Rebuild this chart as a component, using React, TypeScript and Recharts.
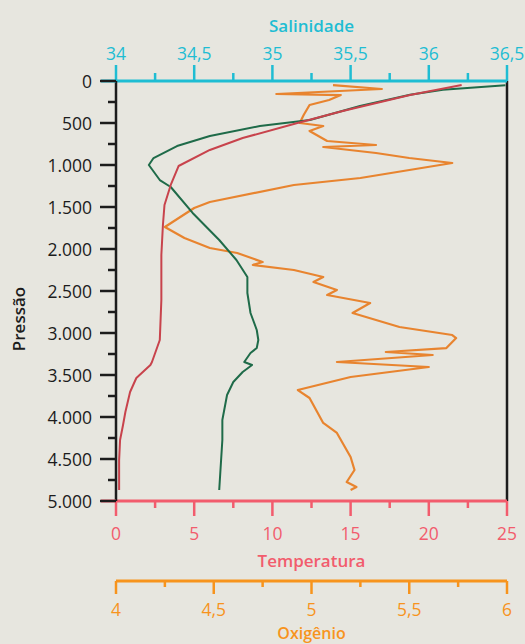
import React from 'react';
import { ComposedChart, Scatter, XAxis, YAxis, ReferenceLine } from 'recharts';

// ---- ticks ----
const depthTicks = [0, 250, 500, 750, 1000, 1250, 1500, 1750, 2000, 2250, 2500, 2750, 3000, 3250, 3500, 3750, 4000, 4250, 4500, 4750, 5000];
const salTicks = [34, 34.25, 34.5, 34.75, 35, 35.25, 35.5, 35.75, 36, 36.25, 36.5];
const tempTicks = [0, 2.5, 5, 7.5, 10, 12.5, 15, 17.5, 20, 22.5, 25];
const oxyTicks = [4, 4.25, 4.5, 4.75, 5, 5.25, 5.5, 5.75, 6];

// ---- Temperatura (°C) ----
const tempDepths = [48, 167, 357, 500, 679, 821, 1012, 1238, 1476, 1714, 2071, 2607, 3083, 3345, 3381, 3536, 3702, 3940, 4095, 4274, 4512, 4869];
const tempValues = [22.1, 18.8, 14.5, 11.6, 8.1, 6.0, 4.0, 3.5, 3.1, 3.0, 2.9, 2.9, 2.8, 2.3, 2.2, 1.3, 0.9, 0.6, 0.45, 0.26, 0.2, 0.2];

// ---- Salinidade ----
const salDepths = [50, 104, 163, 298, 464, 536, 655, 774, 917, 1000, 1179, 1262, 1571, 1893, 2131, 2333, 2524, 2762, 2964, 3083, 3179, 3238, 3345, 3381, 3464, 3583, 3738, 4036, 4274, 4869];
const salValues = [36.49, 36.09, 35.88, 35.56, 35.24, 34.92, 34.6, 34.39, 34.24, 34.21, 34.28, 34.35, 34.49, 34.66, 34.77, 34.84, 34.84, 34.86, 34.9, 34.91, 34.9, 34.86, 34.82, 34.87, 34.81, 34.75, 34.71, 34.68, 34.68, 34.66];

// ---- Oxigênio ----
const oxyDepths = [48, 95, 155, 167, 226, 286, 405, 500, 536, 595, 714, 762, 786, 857, 917, 976, 1155, 1238, 1440, 1512, 1738, 1869, 1988, 2048, 2155, 2190, 2250, 2333, 2393, 2488, 2548, 2643, 2762, 2929, 3024, 3060, 3179, 3226, 3262, 3345, 3405, 3524, 3679, 3774, 4071, 4190, 4476, 4631, 4774, 4833, 4869];
const oxyValues = [5.11, 5.36, 4.82, 5.15, 5.09, 4.99, 4.96, 4.94, 5.06, 4.99, 5.08, 5.33, 5.06, 5.33, 5.5, 5.72, 5.25, 4.91, 4.48, 4.4, 4.25, 4.35, 4.48, 4.62, 4.75, 4.7, 4.91, 5.06, 5.01, 5.13, 5.08, 5.3, 5.21, 5.45, 5.72, 5.74, 5.69, 5.38, 5.62, 5.13, 5.6, 5.2, 4.93, 4.99, 5.06, 5.13, 5.2, 5.22, 5.18, 5.23, 5.2];

const tempData = tempDepths.map((d, i) => ({ depth: d, v: tempValues[i] }));
const salData = salDepths.map((d, i) => ({ depth: d, v: salValues[i] }));
const oxyData = oxyDepths.map((d, i) => ({ depth: d, v: oxyValues[i] }));

const CYAN = '#1fbdd3';
const PINK = '#f25c6d';
const ORANGE = '#f7941d';
const DARK = '#1c1c1c';
const BG = '#e7e6df';
const FONT = '"Open Sans", "Noto Sans", sans-serif';
const TICK_FS = 17.5;

const comma = (v: number) => String(v).replace('.', ',');
const thousands = (v: number) => (v >= 1000 ? `${Math.floor(v / 1000)}.${String(v % 1000).padStart(3, '0')}` : String(v));

const SalTick = (p: any) => {
  const { x, y, payload, index } = p;
  const v = payload.value;
  const major = Number.isInteger(v * 2);
  return (
    <g>
      {index === 0 && <line x1={x - 15} x2={x} y1={y} y2={y} stroke={CYAN} strokeWidth={3} />}
      <line x1={x} x2={x} y1={y} y2={y - (major ? 16 : 8)} stroke={CYAN} strokeWidth={2.5} />
      {major && (
        <text x={x} y={y - 28} textAnchor="middle" dominantBaseline="central" fill={CYAN} fontSize={TICK_FS} fontFamily={FONT}>
          {comma(v)}
        </text>
      )}
    </g>
  );
};

const TempTick = (p: any) => {
  const { x, y, payload, index } = p;
  const v = payload.value;
  const major = v % 5 === 0;
  return (
    <g>
      {index === 0 && <line x1={x - 15} x2={x} y1={y} y2={y} stroke={PINK} strokeWidth={3} />}
      <line x1={x} x2={x} y1={y} y2={y + (major ? 15 : 7)} stroke={PINK} strokeWidth={2.5} />
      {major && (
        <text x={x} y={y + 32} textAnchor="middle" dominantBaseline="central" fill={PINK} fontSize={TICK_FS} fontFamily={FONT}>
          {comma(v)}
        </text>
      )}
    </g>
  );
};

const OxyTick = (p: any) => {
  const { x, y, payload } = p;
  const v = payload.value;
  const major = Number.isInteger(v * 2);
  return (
    <g>
      <line x1={x} x2={x} y1={y} y2={y + (major ? 13 : 6)} stroke={ORANGE} strokeWidth={2.5} />
      {major && (
        <text x={x} y={y + 28} textAnchor="middle" dominantBaseline="central" fill={ORANGE} fontSize={TICK_FS} fontFamily={FONT}>
          {comma(v)}
        </text>
      )}
    </g>
  );
};

const DepthTick = (p: any) => {
  const { x, y, payload } = p;
  const v = payload.value;
  const major = v % 500 === 0;
  return (
    <g>
      <line x1={x} x2={x - (major ? 16 : 8)} y1={y} y2={y} stroke={DARK} strokeWidth={2.5} />
      {major && (
        <text x={x - 24} y={y} textAnchor="end" dominantBaseline="central" fill={DARK} fontSize={TICK_FS} fontFamily={FONT}>
          {thousands(v)}
        </text>
      )}
    </g>
  );
};

const noShape = () => <g />;

const titleStyle = { fontSize: 17, fontWeight: 600, fontFamily: FONT } as const;

export default function App() {
  return (
    <div style={{ width: 525, height: 644, background: BG }}>
      <style>{`body{margin:0;background:${BG};}`}</style>
      <ComposedChart width={525} height={644} margin={{ top: 0, right: 18, bottom: 0, left: 0 }}>
        <XAxis
          xAxisId="a_sal"
          orientation="top"
          type="number"
          dataKey="v"
          domain={[34, 36.5]}
          ticks={salTicks}
          interval={0}
          height={81}
          tickLine={false}
          tickSize={0}
          tickMargin={0}
          tick={<SalTick />}
          axisLine={{ stroke: CYAN, strokeWidth: 3 }}
          allowDataOverflow
          label={{
            content: (lp: any) => {
              const vb = lp.viewBox;
              return (
                <text x={vb.x + vb.width / 2} y={vb.y + 25} textAnchor="middle" dominantBaseline="central" fill={CYAN} {...titleStyle}>
                  Salinidade
                </text>
              );
            },
          }}
        />
        <XAxis
          xAxisId="b1_temp"
          orientation="bottom"
          type="number"
          dataKey="v"
          domain={[0, 25]}
          ticks={tempTicks}
          interval={0}
          height={80}
          tickLine={false}
          tickSize={0}
          tickMargin={0}
          tick={<TempTick />}
          axisLine={{ stroke: PINK, strokeWidth: 3 }}
          allowDataOverflow
          label={{
            content: (lp: any) => {
              const vb = lp.viewBox;
              return (
                <text x={vb.x + vb.width / 2} y={vb.y + 59} textAnchor="middle" dominantBaseline="central" fill={PINK} {...titleStyle}>
                  Temperatura
                </text>
              );
            },
          }}
        />
        <XAxis
          xAxisId="b2_oxy"
          orientation="bottom"
          type="number"
          dataKey="v"
          domain={[4, 6]}
          ticks={oxyTicks}
          interval={0}
          height={63}
          tickLine={false}
          tickSize={0}
          tickMargin={0}
          tick={<OxyTick />}
          axisLine={{ stroke: ORANGE, strokeWidth: 3 }}
          allowDataOverflow
          label={{
            content: (lp: any) => {
              const vb = lp.viewBox;
              return (
                <text x={vb.x + vb.width / 2} y={vb.y + 52} textAnchor="middle" dominantBaseline="central" fill={ORANGE} {...titleStyle} fontSize={16}>
                  Oxigênio
                </text>
              );
            },
          }}
        />
        <YAxis
          yAxisId="depth"
          type="number"
          dataKey="depth"
          domain={[0, 5000]}
          reversed
          ticks={depthTicks}
          interval={0}
          width={116}
          tickLine={false}
          tickSize={0}
          tickMargin={0}
          tick={<DepthTick />}
          axisLine={{ stroke: DARK, strokeWidth: 2.5 }}
          allowDataOverflow
          label={{
            content: (lp: any) => {
              const vb = lp.viewBox;
              const cx = vb.x + 18;
              const cy = vb.y + vb.height / 2 + 28;
              return (
                <text x={cx} y={cy} transform={`rotate(-90 ${cx} ${cy})`} textAnchor="middle" dominantBaseline="central" fill={DARK} {...titleStyle}>
                  Pressão
                </text>
              );
            },
          }}
        />
        <ReferenceLine xAxisId="b1_temp" yAxisId="depth" x={25} stroke={DARK} strokeWidth={2.5} />
        <Scatter
          xAxisId="b2_oxy"
          yAxisId="depth"
          data={oxyData}
          fill="#e8842f"
          line={{ stroke: '#e8842f', strokeWidth: 2.2, strokeLinejoin: 'round' }}
          shape={noShape}
          isAnimationActive={false}
        />
        <Scatter
          xAxisId="a_sal"
          yAxisId="depth"
          data={salData}
          fill="#1f6b49"
          line={{ stroke: '#1f6b49', strokeWidth: 2, strokeLinejoin: 'round' }}
          shape={noShape}
          isAnimationActive={false}
        />
        <Scatter
          xAxisId="b1_temp"
          yAxisId="depth"
          data={tempData}
          fill="#c8434c"
          line={{ stroke: '#c8434c', strokeWidth: 2, strokeLinejoin: 'round' }}
          shape={noShape}
          isAnimationActive={false}
        />
      </ComposedChart>
    </div>
  );
}
